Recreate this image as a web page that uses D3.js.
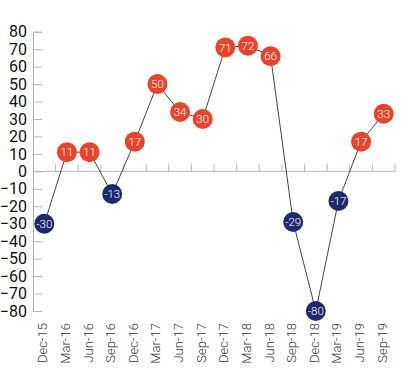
<!DOCTYPE html>
<html>
<head>
<meta charset="utf-8">
<script src="https://cdn.jsdelivr.net/npm/d3@7"></script>
<style>
  body { margin: 0; background: #fff; }
  svg { display: block; }
</style>
</head>
<body>
<div id="chart"></div>
<script>
// data
var quarters = ["Dec-15","Mar-16","Jun-16","Sep-16","Dec-16","Mar-17","Jun-17","Sep-17",
                "Dec-17","Mar-18","Jun-18","Sep-18","Dec-18","Mar-19","Jun-19","Sep-19"];
var values = [-30, 11, 11, -13, 17, 50, 34, 30, 71, 72, 66, -29, -80, -17, 17, 33];
var yTicks = [80,70,60,50,40,30,20,10,0,-10,-20,-30,-40,-50,-60,-70,-80];

var width = 410, height = 370;

var svg = d3.select("#chart")
    .append("svg")
    .attr("width", width)
    .attr("height", height);

// scales
var x = d3.scaleBand()
    .domain(quarters)
    .range([33, 395])
    .padding(0);

var y = d3.scaleLinear()
    .domain([-80, 80])
    .range([311, 31.7]);

// y axis, ticks pointing into the plot
var yAxis = svg.append("g")
    .attr("transform", "translate(33,0)")
    .call(d3.axisLeft(y).tickValues(yTicks).tickSize(-9).tickPadding(6).tickFormat(d3.format("d")));
yAxis.select(".domain").attr("stroke", "#b5b5b5");
yAxis.selectAll(".tick line").attr("stroke", "#b5b5b5");
yAxis.selectAll(".tick text")
    .attr("fill", "#111")
    .style("font-family", "Roboto, sans-serif")
    .style("font-size", "16px");

// zero line with small ticks between quarters
svg.append("line")
    .attr("x1", 33).attr("x2", 395)
    .attr("y1", y(0)).attr("y2", y(0))
    .attr("stroke", "#b5b5b5");

svg.append("g")
    .selectAll("line")
    .data(quarters.slice(1).concat(["end"]))
    .enter().append("line")
    .attr("x1", function(d) { return d === "end" ? x.range()[1] : x(d); })
    .attr("x2", function(d) { return d === "end" ? x.range()[1] : x(d); })
    .attr("y1", y(0))
    .attr("y2", y(0) - 7)
    .attr("stroke", "#b5b5b5");

// x labels, rotated
svg.append("g")
    .selectAll("text")
    .data(quarters)
    .enter().append("text")
    .attr("transform", function(d) {
        return "translate(" + (x(d) + x.bandwidth() / 2 + 3) + ",323) rotate(-90)";
    })
    .attr("text-anchor", "end")
    .attr("fill", "#333")
    .style("font-family", "Roboto, sans-serif")
    .style("font-weight", 300)
    .style("font-size", "13px")
    .text(function(d) { return d; });

// line
var line = d3.line()
    .x(function(d, i) { return x(quarters[i]) + x.bandwidth() / 2; })
    .y(function(d) { return y(d); });

svg.append("path")
    .datum(values)
    .attr("d", line)
    .attr("fill", "none")
    .attr("stroke", "#444")
    .attr("stroke-width", 1);

// points
var pts = svg.append("g")
    .selectAll("g")
    .data(values)
    .enter().append("g")
    .attr("transform", function(d, i) {
        return "translate(" + (x(quarters[i]) + x.bandwidth() / 2) + "," + y(d) + ")";
    });

pts.append("circle")
    .attr("r", 10)
    .attr("fill", function(d) { return d < 0 ? "#1d2a6b" : "#e8442b"; });

pts.append("text")
    .attr("text-anchor", "middle")
    .attr("dy", "0.36em")
    .attr("fill", "#fff")
    .style("font-family", "Roboto, sans-serif")
    .style("font-weight", 300)
    .style("font-size", "11.5px")
    .text(function(d) { return d; });
</script>
</body>
</html>
